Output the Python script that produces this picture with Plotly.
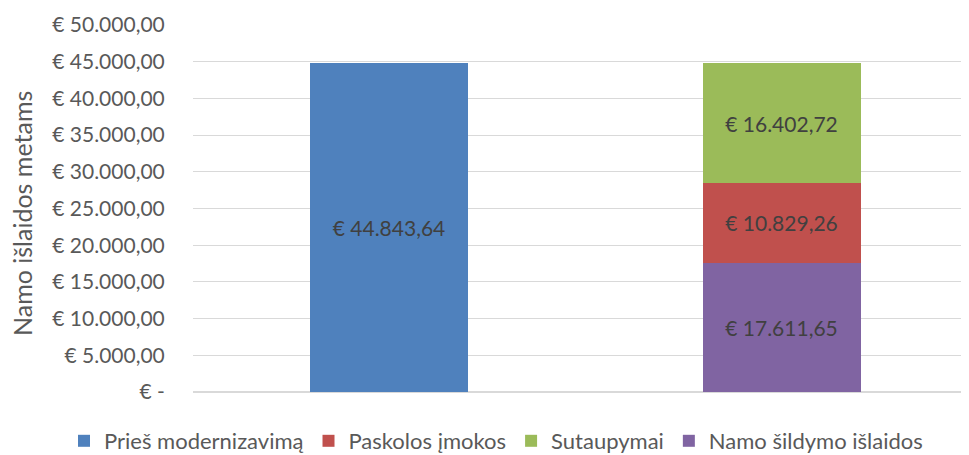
import plotly.graph_objects as go

# Duomenys
categories = ["Prieš modernizavimą", "Po modernizavimo"]
pries = [44843.64, 0]
sildymas = [0, 17611.65]
paskola = [0, 10829.26]
sutaupymai = [0, 16402.72]

tick_vals = [0, 5000, 10000, 15000, 20000, 25000, 30000, 35000, 40000, 45000, 50000]
tick_text = ["€ -", "€ 5.000,00", "€ 10.000,00", "€ 15.000,00", "€ 20.000,00",
             "€ 25.000,00", "€ 30.000,00", "€ 35.000,00", "€ 40.000,00",
             "€ 45.000,00", "€ 50.000,00"]


def eur(v):
    if v == 0:
        return ""
    s = f"{v:,.2f}".replace(",", " ").replace(".", ",").replace(" ", ".")
    return "€ " + s


font = "Lato, 'Open Sans', sans-serif"
# page body has an 8px margin, so the figure is drawn 8px smaller
W, H = 961, 447

fig = go.Figure()
# stack order: bottom -> top
series = [
    ("Prieš modernizavimą", pries, "#4F81BD", 1),
    ("Namo šildymo išlaidos", sildymas, "#8064A2", 4),
    ("Paskolos įmokos", paskola, "#C0504D", 2),
    ("Sutaupymai", sutaupymai, "#9BBB59", 3),
]
for name, vals, color, rank in series:
    fig.add_trace(go.Bar(
        x=categories, y=vals, name=name, marker_color=color,
        marker_line_width=0, legendrank=rank,
        text=[eur(v) for v in vals], textposition="inside",
        insidetextanchor="middle", textangle=0,
        textfont=dict(size=21, color="#404040", family=font),
    ))

fig.update_layout(
    barmode="stack",
    bargap=0.5975,
    width=W, height=H,
    margin=dict(l=0, r=0, t=17, b=63, autoexpand=False),
    plot_bgcolor="white", paper_bgcolor="white",
    font=dict(family=font, color="#595959", size=21),
    showlegend=True,
    legend=dict(orientation="h", xref="paper", yref="container",
                x=488 / W, xanchor="center", y=14 / H, yanchor="middle",
                font=dict(size=22, color="#595959"), traceorder="normal"),
    uniformtext=dict(mode="show", minsize=10),
)
fig.update_xaxes(domain=[185 / W, 959 / W],
                 showticklabels=False, showgrid=False, zeroline=False, showline=False,
                 range=[-0.4994, 1.4726], automargin=False)
fig.update_yaxes(range=[0, 50000], tickvals=tick_vals, ticktext=tick_text,
                 showgrid=True, gridcolor="#D9D9D9", gridwidth=1,
                 zeroline=True, zerolinecolor="#D9D9D9",
                 ticks="outside", ticklen=23, tickcolor="white",
                 tickfont=dict(size=21, color="#595959"), automargin=False)
fig.add_annotation(text="Namo išlaidos metams", xref="paper", yref="paper",
                   x=14 / W, y=(384 - 206) / 367, textangle=-90, showarrow=False,
                   font=dict(size=25, color="#595959"), xanchor="center", yanchor="middle")

fig.write_html("out.html")
